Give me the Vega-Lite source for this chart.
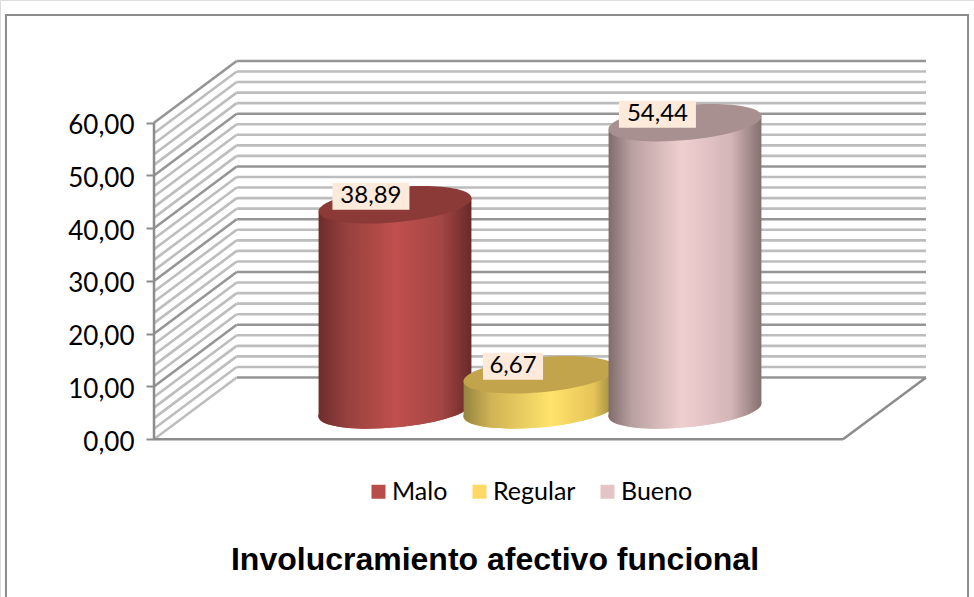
{
"$schema":"https://vega.github.io/schema/vega-lite/v6.json",
"width":974,"height":597,"autosize":{"type":"none"},"padding":0,"background":"#ffffff",
"title":{"text":"Involucramiento afectivo funcional","orient":"bottom","anchor":"middle","offset":0,"dx":8,"dy":-85,"font":"Liberation Sans","fontSize":32,"fontWeight":"bold","color":"#000000"},
"datasets":{
"barras":[
{"categoria":"Malo","posicion":1,"valor":38.89,"etiqueta":"38,89","pos_etiqueta":0.834},
{"categoria":"Regular","posicion":2,"valor":6.67,"etiqueta":"6,67","pos_etiqueta":1.814},
{"categoria":"Bueno","posicion":3,"valor":54.44,"etiqueta":"54,44","pos_etiqueta":2.81}],
"cuerpos":[
{"categoria":"Malo","x":0.473,"sup":37.56,"inf":-1.33},{"categoria":"Malo","x":1.527,"sup":40.22,"inf":1.33},
{"categoria":"Regular","x":1.473,"sup":5.34,"inf":-1.33},{"categoria":"Regular","x":2.527,"sup":8.0,"inf":1.33},
{"categoria":"Bueno","x":2.473,"sup":53.11,"inf":-1.33},{"categoria":"Bueno","x":3.527,"sup":55.77,"inf":1.33}],
"rejilla":[
{"v":0,"fondo":11.7},{"v":2,"fondo":13.7},{"v":4,"fondo":15.7},{"v":6,"fondo":17.7},{"v":8,"fondo":19.7},{"v":10,"fondo":21.7},
{"v":12,"fondo":23.7},{"v":14,"fondo":25.7},{"v":16,"fondo":27.7},{"v":18,"fondo":29.7},{"v":20,"fondo":31.7},
{"v":22,"fondo":33.7},{"v":24,"fondo":35.7},{"v":26,"fondo":37.7},{"v":28,"fondo":39.7},{"v":30,"fondo":41.7},
{"v":32,"fondo":43.7},{"v":34,"fondo":45.7},{"v":36,"fondo":47.7},{"v":38,"fondo":49.7},{"v":40,"fondo":51.7},
{"v":42,"fondo":53.7},{"v":44,"fondo":55.7},{"v":46,"fondo":57.7},{"v":48,"fondo":59.7},{"v":50,"fondo":61.7},
{"v":52,"fondo":63.7},{"v":54,"fondo":65.7},{"v":56,"fondo":67.7},{"v":58,"fondo":69.7},{"v":60,"fondo":71.7}],
"ejes":[
{"x":-0.662,"x2":-0.662,"y":0,"y2":60},
{"x":-0.662,"x2":4.09,"y":0,"y2":0},
{"x":4.09,"x2":4.662,"y":0,"y2":11.7}],
"marco":[{"x":-1.683,"x2":4.952,"y":80.4,"y2":-36}]
},
"layer":[
{"data":{"name":"marco"},"mark":{"type":"rect","filled":false,"stroke":"#8c8c8c","strokeWidth":2},
"encoding":{"x":{"field":"x","type":"quantitative","axis":null,"scale":{"domain":[-1.7241,4.9931],"nice":false,"zero":false}},"x2":{"field":"x2"},
"y":{"field":"y","type":"quantitative","axis":null,"scale":{"domain":[-29.9,83.25],"nice":false,"zero":false}},"y2":{"field":"y2"}}},
{"data":{"name":"rejilla"},"mark":{"type":"rule","strokeWidth":2.6},
"encoding":{"x":{"datum":-0.0917,"type":"quantitative","axis":null},"x2":{"datum":4.662},
"y":{"field":"fondo","type":"quantitative","axis":null,"scale":{"domain":[-29.9,83.25],"nice":false,"zero":false}},
"color":{"condition":{"test":"datum.v % 10 === 0","value":"#959595"},"value":"#bdbdbd"}}},
{"data":{"name":"rejilla"},"mark":{"type":"rule","strokeWidth":2.6},
"encoding":{"x":{"datum":-0.662,"type":"quantitative","axis":null},"x2":{"datum":-0.0917},
"y":{"field":"v","type":"quantitative","axis":null,"scale":{"domain":[-29.9,83.25],"nice":false,"zero":false}},"y2":{"field":"fondo"},
"color":{"condition":{"test":"datum.v % 10 === 0 && datum.v > 0","value":"#959595"},"value":"#bdbdbd"}}},
{"data":{"name":"ejes"},"mark":{"type":"rule","strokeWidth":2.5,"color":"#8c8c8c"},
"encoding":{"x":{"field":"x","type":"quantitative","axis":null},"x2":{"field":"x2"},
"y":{"field":"y","type":"quantitative","scale":{"domain":[-29.9,83.25],"nice":false,"zero":false},
"axis":{"title":null,"values":[0,10,20,30,40,50,60],"offset":-154,"domain":false,"grid":false,"tickSize":8,"tickWidth":2,"tickColor":"#8c8c8c","labelPadding":12,"labelFont":"Lato","labelFontSize":26,"labelOffset":3,"labelColor":"#000000","labelExpr":"replace(format(datum.value,'.2f'),'.',',')","zindex":1}},"y2":{"field":"y2"}}},

{"data":{"name":"barras"},"mark":{"type":"point","filled":true,"opacity":1,"size":23409,"shape":"M-1,0.0915A1.004,0.228,-5.2,1,1,1,-0.0915A1.004,0.228,-5.2,1,1,-1,0.0915Z"},
"encoding":{"x":{"field":"posicion","type":"quantitative","axis":null},
"y":{"datum":0,"type":"quantitative","axis":null,"scale":{"domain":[-35.45,77.7],"nice":false,"zero":false}},
"color":{"field":"categoria","type":"nominal","scale":{"domain":["Malo","Regular","Bueno"],"range":["#b84c49","#ffd966","#e4c4c4"]},
"legend":{"title":null,"orient":"none","legendX":366,"legendY":479,"direction":"horizontal","columns":3,"symbolType":"square","symbolSize":196,"symbolStrokeWidth":0,"labelFont":"Lato","labelFontSize":25,"labelColor":"#000000","columnPadding":19,"labelOffset":1}}}},

{"data":{"name":"cuerpos"},"transform":[{"filter":"datum.categoria === 'Malo'"}],
"mark":{"type":"area","color":{"gradient":"linear","x1":0,"y1":0,"x2":1,"y2":0,"stops":[{"offset":0,"color":"#6d2c2b"},{"offset":0.18,"color":"#96403e"},{"offset":0.5,"color":"#c0504d"},{"offset":0.8,"color":"#a44644"},{"offset":1,"color":"#672a29"}]}},
"encoding":{"x":{"field":"x","type":"quantitative","axis":null},"y":{"field":"sup","type":"quantitative","axis":null,"scale":{"domain":[-35.45,77.7],"nice":false,"zero":false}},"y2":{"field":"inf"}}},
{"data":{"name":"barras"},"transform":[{"filter":"datum.categoria === 'Malo'"}],
"mark":{"type":"point","filled":true,"opacity":1,"size":23409,"fill":{"gradient":"linear","x1":0,"y1":0,"x2":1,"y2":0,"stops":[{"offset":0,"color":"#6d2c2b"},{"offset":0.18,"color":"#96403e"},{"offset":0.5,"color":"#c0504d"},{"offset":0.8,"color":"#a44644"},{"offset":1,"color":"#672a29"}]},"shape":"M-1,0.0915A1.004,0.228,-5.2,1,1,1,-0.0915A1.004,0.228,-5.2,1,1,-1,0.0915Z"},
"encoding":{"x":{"field":"posicion","type":"quantitative","axis":null},"y":{"datum":0,"type":"quantitative","axis":null,"scale":{"domain":[-35.45,77.7],"nice":false,"zero":false}}}},
{"data":{"name":"barras"},"transform":[{"filter":"datum.categoria === 'Malo'"}],
"mark":{"type":"point","filled":true,"opacity":1,"size":23409,"color":"#8b3a38","shape":"M-1,0.0915A1.004,0.228,-5.2,1,1,1,-0.0915A1.004,0.228,-5.2,1,1,-1,0.0915Z"},
"encoding":{"x":{"field":"posicion","type":"quantitative","axis":null},"y":{"field":"valor","type":"quantitative","axis":null,"scale":{"domain":[-35.45,77.7],"nice":false,"zero":false}}}},

{"data":{"name":"cuerpos"},"transform":[{"filter":"datum.categoria === 'Regular'"}],
"mark":{"type":"area","color":{"gradient":"linear","x1":0,"y1":0,"x2":1,"y2":0,"stops":[{"offset":0,"color":"#94843f"},{"offset":0.18,"color":"#d0b355"},{"offset":0.57,"color":"#ffe36b"},{"offset":0.85,"color":"#e6c458"},{"offset":1,"color":"#8f7f3c"}]}},
"encoding":{"x":{"field":"x","type":"quantitative","axis":null},"y":{"field":"sup","type":"quantitative","axis":null,"scale":{"domain":[-35.45,77.7],"nice":false,"zero":false}},"y2":{"field":"inf"}}},
{"data":{"name":"barras"},"transform":[{"filter":"datum.categoria === 'Regular'"}],
"mark":{"type":"point","filled":true,"opacity":1,"size":23409,"fill":{"gradient":"linear","x1":0,"y1":0,"x2":1,"y2":0,"stops":[{"offset":0,"color":"#94843f"},{"offset":0.18,"color":"#d0b355"},{"offset":0.57,"color":"#ffe36b"},{"offset":0.85,"color":"#e6c458"},{"offset":1,"color":"#8f7f3c"}]},"shape":"M-1,0.0915A1.004,0.228,-5.2,1,1,1,-0.0915A1.004,0.228,-5.2,1,1,-1,0.0915Z"},
"encoding":{"x":{"field":"posicion","type":"quantitative","axis":null},"y":{"datum":0,"type":"quantitative","axis":null,"scale":{"domain":[-35.45,77.7],"nice":false,"zero":false}}}},
{"data":{"name":"barras"},"transform":[{"filter":"datum.categoria === 'Regular'"}],
"mark":{"type":"point","filled":true,"opacity":1,"size":23409,"color":"#c2a44c","shape":"M-1,0.0915A1.004,0.228,-5.2,1,1,1,-0.0915A1.004,0.228,-5.2,1,1,-1,0.0915Z"},
"encoding":{"x":{"field":"posicion","type":"quantitative","axis":null},"y":{"field":"valor","type":"quantitative","axis":null,"scale":{"domain":[-35.45,77.7],"nice":false,"zero":false}}}},

{"data":{"name":"cuerpos"},"transform":[{"filter":"datum.categoria === 'Bueno'"}],
"mark":{"type":"area","color":{"gradient":"linear","x1":0,"y1":0,"x2":1,"y2":0,"stops":[{"offset":0,"color":"#806b6b"},{"offset":0.15,"color":"#b8a0a0"},{"offset":0.48,"color":"#f0cfcf"},{"offset":0.8,"color":"#d4b5b8"},{"offset":1,"color":"#857070"}]}},
"encoding":{"x":{"field":"x","type":"quantitative","axis":null},"y":{"field":"sup","type":"quantitative","axis":null,"scale":{"domain":[-35.45,77.7],"nice":false,"zero":false}},"y2":{"field":"inf"}}},
{"data":{"name":"barras"},"transform":[{"filter":"datum.categoria === 'Bueno'"}],
"mark":{"type":"point","filled":true,"opacity":1,"size":23409,"fill":{"gradient":"linear","x1":0,"y1":0,"x2":1,"y2":0,"stops":[{"offset":0,"color":"#806b6b"},{"offset":0.15,"color":"#b8a0a0"},{"offset":0.48,"color":"#f0cfcf"},{"offset":0.8,"color":"#d4b5b8"},{"offset":1,"color":"#857070"}]},"shape":"M-1,0.0915A1.004,0.228,-5.2,1,1,1,-0.0915A1.004,0.228,-5.2,1,1,-1,0.0915Z"},
"encoding":{"x":{"field":"posicion","type":"quantitative","axis":null},"y":{"datum":0,"type":"quantitative","axis":null,"scale":{"domain":[-35.45,77.7],"nice":false,"zero":false}}}},
{"data":{"name":"barras"},"transform":[{"filter":"datum.categoria === 'Bueno'"}],
"mark":{"type":"point","filled":true,"opacity":1,"size":23409,"color":"#a99090","shape":"M-1,0.0915A1.004,0.228,-5.2,1,1,1,-0.0915A1.004,0.228,-5.2,1,1,-1,0.0915Z"},
"encoding":{"x":{"field":"posicion","type":"quantitative","axis":null},"y":{"field":"valor","type":"quantitative","axis":null,"scale":{"domain":[-35.45,77.7],"nice":false,"zero":false}}}},

{"data":{"name":"barras"},"transform":[{"filter":"datum.categoria !== 'Regular'"}],
"mark":{"type":"point","filled":true,"opacity":1,"size":5929,"color":"#fdeada","shape":"M-1,-0.351H1V0.351H-1Z"},
"encoding":{"x":{"field":"pos_etiqueta","type":"quantitative","axis":null},"y":{"field":"valor","type":"quantitative","axis":null,"scale":{"domain":[-37.06,76.09],"nice":false,"zero":false}}}},
{"data":{"name":"barras"},"transform":[{"filter":"datum.categoria === 'Regular'"}],
"mark":{"type":"point","filled":true,"opacity":1,"size":3600,"color":"#fdeada","shape":"M-1,-0.45H1V0.45H-1Z"},
"encoding":{"x":{"field":"pos_etiqueta","type":"quantitative","axis":null},"y":{"field":"valor","type":"quantitative","axis":null,"scale":{"domain":[-37.06,76.09],"nice":false,"zero":false}}}},
{"data":{"name":"barras"},
"mark":{"type":"text","font":"Lato","fontSize":24,"color":"#000000","align":"center","baseline":"middle"},
"encoding":{"x":{"field":"pos_etiqueta","type":"quantitative","axis":null},"y":{"field":"valor","type":"quantitative","axis":null,"scale":{"domain":[-37.06,76.09],"nice":false,"zero":false}},"text":{"field":"etiqueta","type":"nominal"}}}
],
"resolve":{"scale":{"y":"independent"}}
}
